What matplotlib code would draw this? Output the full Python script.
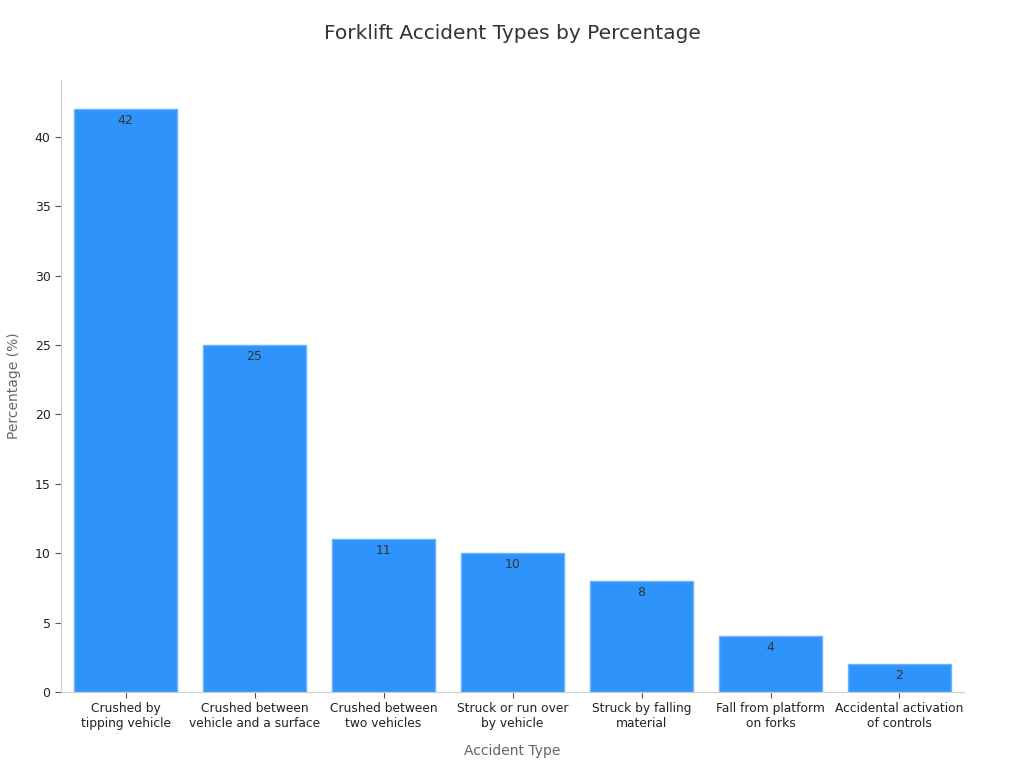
import matplotlib
matplotlib.use("Agg")
import matplotlib.pyplot as plt

categories = ["Crushed by\ntipping vehicle", "Crushed between\nvehicle and a surface",
              "Crushed between\ntwo vehicles", "Struck or run over\nby vehicle",
              "Struck by falling\nmaterial", "Fall from platform\non forks",
              "Accidental activation\nof controls"]
values = [42, 25, 11, 10, 8, 4, 2]

fig = plt.figure(figsize=(10.24, 7.68), dpi=100)
ax = fig.add_axes([0.0596, 0.099, 0.8818, 0.797])
x = list(range(len(categories)))
bars = ax.bar(x, values, width=0.8, color="#2E93FA", edgecolor="#6DB3FB", linewidth=1)
for xi, v in zip(x, values):
    ax.text(xi, v - 0.35, str(v), ha="center", va="top", fontsize=9, color="#333333")
ax.set_xlim(-0.5, 6.5)
ax.set_ylim(0, 44.1)
ax.set_xticks(x)
ax.set_xticklabels(categories, fontsize=8.8, color="#222222")
ax.set_yticks([0, 5, 10, 15, 20, 25, 30, 35, 40])
ax.tick_params(axis="y", labelsize=9, labelcolor="#222222", color="#555555", length=4)
ax.tick_params(axis="x", color="#555555", length=4)
for s in ["top", "right"]:
    ax.spines[s].set_visible(False)
for s in ["left", "bottom"]:
    ax.spines[s].set_color("#CCCCCC")
ax.set_xlabel("Accident Type", fontsize=10, color="#666666", labelpad=10)
ax.set_ylabel("Percentage (%)", fontsize=10, color="#666666", labelpad=10)
fig.text(0.5, 0.957, "Forklift Accident Types by Percentage", ha="center", va="center",
         fontsize=14.5, color="#333333")
fig.savefig("out.png", dpi=100)
